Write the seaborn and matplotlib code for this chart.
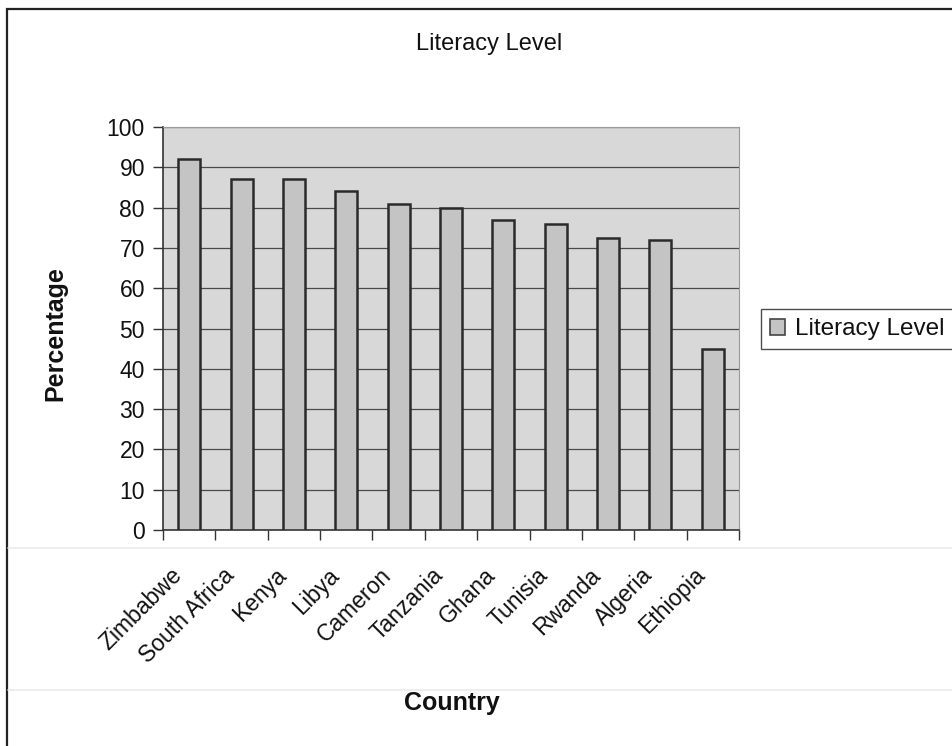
import matplotlib
matplotlib.use("Agg")
import matplotlib.pyplot as plt
import matplotlib.transforms as mtransforms
from matplotlib.patches import Patch, Rectangle
from matplotlib.lines import Line2D
import seaborn as sns
import pandas as pd

countries = ["Zimbabwe", "South Africa", "Kenya", "Libya", "Cameron", "Tanzania",
             "Ghana", "Tunisia", "Rwanda", "Algeria", "Ethiopia"]
literacy = [92, 87, 87, 84, 81, 80, 77, 76, 72.5, 72, 45]
y_ticks = [0, 10, 20, 30, 40, 50, 60, 70, 80, 90, 100]

df = pd.DataFrame({"Country": countries, "Literacy Level": literacy})

sns.set_style("white")
plt.rcParams["font.family"] = ["Liberation Sans", "DejaVu Sans"]

bar_color = "#c4c4c4"
edge_color = "#2a2a2a"
plot_bg = "#d8d8d8"

W, H = 953, 746
fig = plt.figure(figsize=(W / 100, H / 100), dpi=100)
fig.patch.set_facecolor("white")
ax = fig.add_axes([163 / W, 1 - 530 / H, (739 - 163) / W, (530 - 127) / H])
ax.set_facecolor(plot_bg)

sns.barplot(data=df, x="Country", y="Literacy Level", color=bar_color,
            edgecolor=edge_color, linewidth=1.8, width=0.42, saturation=1,
            ax=ax, zorder=3)

# y axis
ax.set_ylim(0, 100)
ax.set_yticks(y_ticks)
ax.set_yticklabels([str(v) for v in y_ticks], fontsize=16.5, color="#111")
ax.yaxis.grid(True, color="#4a4a4a", linewidth=0.9)
ax.set_axisbelow(True)
ax.tick_params(axis="y", left=True, length=7, width=1, color="#333", pad=6)

# x axis: ticks sit between categories, labels centred on them
n = len(countries)
ax.set_xlim(-0.5, n - 0.5)
ax.set_xticks(range(n))
ax.set_xticks([i - 0.5 for i in range(n + 1)], minor=True)
ax.tick_params(axis="x", which="major", length=0, pad=30)
ax.tick_params(axis="x", which="minor", bottom=True, length=7, width=1, color="#333")
offset = mtransforms.ScaledTranslation(-11 / 100, 0, fig.dpi_scale_trans)
for lbl in ax.get_xticklabels():
    lbl.set_rotation(45)
    lbl.set_ha("right")
    lbl.set_va("center")
    lbl.set_rotation_mode("anchor")
    lbl.set_fontsize(16.5)
    lbl.set_color("#111")
    lbl.set_transform(lbl.get_transform() + offset)

for side in ("left", "bottom"):
    ax.spines[side].set_color("#333")
    ax.spines[side].set_linewidth(1.2)
for side in ("top", "right"):
    ax.spines[side].set_color("#9a9a9a")
    ax.spines[side].set_linewidth(0.8)

ax.set_xlabel("")
ax.set_ylabel("")

# titles and axis labels
fig.text(489 / W, 1 - 44 / H, "Literacy Level", ha="center", va="center",
         fontsize=17, color="#111")
fig.text(452 / W, 1 - 703 / H, "Country", ha="center", va="center",
         fontsize=18, fontweight="bold", color="#111")
fig.text(55 / W, 1 - 334 / H, "Percentage", ha="center", va="center",
         rotation=90, fontsize=18, fontweight="bold", color="#111")

# legend
handle = Patch(facecolor=bar_color, edgecolor="#444", linewidth=1.2)
leg = fig.legend([handle], ["Literacy Level"], loc="upper left",
                 bbox_to_anchor=(761 / W, 1 - 309 / H), borderaxespad=0,
                 fontsize=17.5, frameon=True, fancybox=False,
                 handlelength=0.62, handleheight=0.62, handletextpad=0.4,
                 borderpad=0.38)
leg.get_frame().set_edgecolor("#222")
leg.get_frame().set_linewidth(1.0)
leg.get_frame().set_facecolor("white")
for t in leg.get_texts():
    t.set_color("#111")

# faint separator lines across the chart area
for yy in (548, 690):
    fig.add_artist(Line2D([8 / W, 1], [1 - yy / H, 1 - yy / H],
                          transform=fig.transFigure, color="#ebebeb", lw=1.2))

# outer chart border
fig.add_artist(Rectangle((7 / W, -0.05), 1.2, 1 - 9 / H + 0.05,
                         transform=fig.transFigure, fill=False,
                         edgecolor="#222", linewidth=1.6, clip_on=False))

fig.savefig("out.png", dpi=100, facecolor="white")
